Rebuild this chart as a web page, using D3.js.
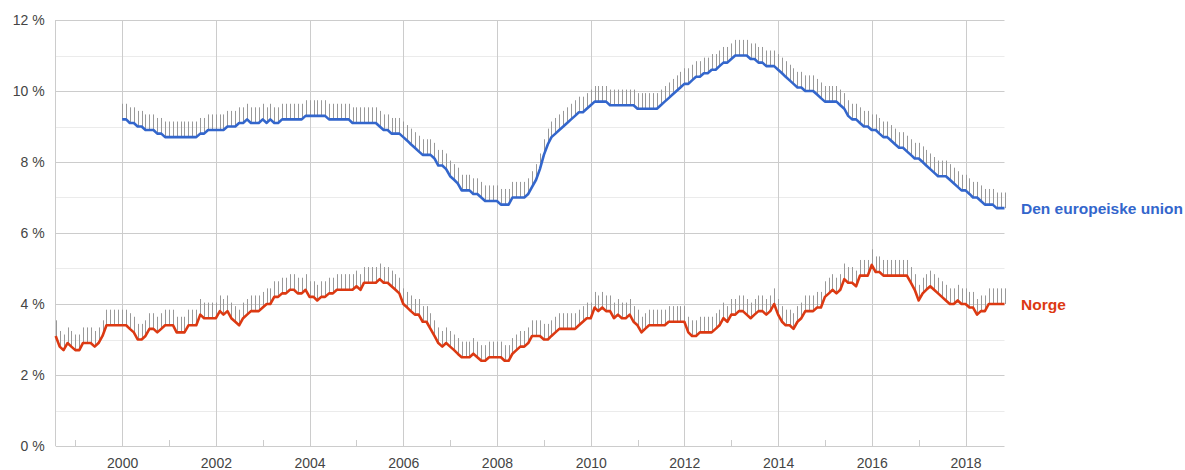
<!DOCTYPE html>
<html>
<head>
<meta charset="utf-8">
<script src="https://cdn.jsdelivr.net/npm/d3@7"></script>
<style>
  body { margin: 0; background: #fff; }
  #chart-container { width: 1185px; height: 470px; }
  text { font-family: "Liberation Sans", Arial, sans-serif; }
</style>
</head>
<body>
<div id="chart-container"></div>
<script>
// monthly values, first month of each series
const euStart = "2000-01";
const noStart = "1998-08";

// Den europeiske union, 2000-01 .. 2018-11
const euValues = [
  9.2, 9.2, 9.1, 9.1, 9.0, 9.0, 8.9, 8.9, 8.9, 8.8,
  8.8, 8.7, 8.7, 8.7, 8.7, 8.7, 8.7, 8.7, 8.7, 8.7,
  8.8, 8.8, 8.9, 8.9, 8.9, 8.9, 8.9, 9.0, 9.0, 9.0,
  9.1, 9.1, 9.2, 9.1, 9.1, 9.1, 9.2, 9.1, 9.2, 9.1,
  9.1, 9.2, 9.2, 9.2, 9.2, 9.2, 9.2, 9.3, 9.3, 9.3,
  9.3, 9.3, 9.3, 9.2, 9.2, 9.2, 9.2, 9.2, 9.2, 9.1,
  9.1, 9.1, 9.1, 9.1, 9.1, 9.1, 9.0, 8.9, 8.9, 8.8,
  8.8, 8.8, 8.7, 8.6, 8.5, 8.4, 8.3, 8.2, 8.2, 8.2,
  8.1, 7.9, 7.9, 7.8, 7.6, 7.5, 7.4, 7.2, 7.2, 7.2,
  7.1, 7.1, 7.0, 6.9, 6.9, 6.9, 6.9, 6.8, 6.8, 6.8,
  7.0, 7.0, 7.0, 7.0, 7.1, 7.3, 7.5, 7.8, 8.2, 8.5,
  8.7, 8.8, 8.9, 9.0, 9.1, 9.2, 9.3, 9.4, 9.4, 9.5,
  9.6, 9.7, 9.7, 9.7, 9.7, 9.6, 9.6, 9.6, 9.6, 9.6,
  9.6, 9.6, 9.5, 9.5, 9.5, 9.5, 9.5, 9.5, 9.6, 9.7,
  9.8, 9.9, 10.0, 10.1, 10.2, 10.2, 10.3, 10.4, 10.4, 10.5,
  10.5, 10.6, 10.6, 10.7, 10.8, 10.8, 10.9, 11.0, 11.0, 11.0,
  11.0, 10.9, 10.9, 10.8, 10.8, 10.7, 10.7, 10.7, 10.6, 10.5,
  10.4, 10.3, 10.2, 10.1, 10.1, 10.0, 10.0, 10.0, 9.9, 9.8,
  9.7, 9.7, 9.7, 9.7, 9.6, 9.5, 9.3, 9.2, 9.2, 9.1,
  9.0, 9.0, 8.9, 8.9, 8.8, 8.7, 8.7, 8.6, 8.5, 8.4,
  8.4, 8.3, 8.2, 8.1, 8.1, 8.0, 7.9, 7.8, 7.7, 7.6,
  7.6, 7.6, 7.5, 7.4, 7.3, 7.2, 7.2, 7.1, 7.0, 7.0,
  6.9, 6.8, 6.8, 6.8, 6.7, 6.7, 6.7
];

// Norge, 1998-08 .. 2018-11
const noValues = [
  3.1, 2.8, 2.7, 2.9, 2.8, 2.7, 2.7, 2.9, 2.9, 2.9,
  2.8, 2.9, 3.1, 3.4, 3.4, 3.4, 3.4, 3.4, 3.4, 3.3,
  3.2, 3.0, 3.0, 3.1, 3.3, 3.3, 3.2, 3.3, 3.4, 3.4,
  3.4, 3.2, 3.2, 3.2, 3.4, 3.4, 3.4, 3.7, 3.6, 3.6,
  3.6, 3.6, 3.8, 3.7, 3.8, 3.6, 3.5, 3.4, 3.6, 3.7,
  3.8, 3.8, 3.8, 3.9, 4.0, 4.0, 4.2, 4.2, 4.3, 4.3,
  4.4, 4.4, 4.3, 4.3, 4.4, 4.2, 4.2, 4.1, 4.2, 4.2,
  4.3, 4.3, 4.4, 4.4, 4.4, 4.4, 4.4, 4.5, 4.4, 4.6,
  4.6, 4.6, 4.6, 4.7, 4.6, 4.6, 4.5, 4.4, 4.3, 4.0,
  3.9, 3.8, 3.7, 3.7, 3.5, 3.5, 3.3, 3.1, 2.9, 2.8,
  2.9, 2.8, 2.7, 2.6, 2.5, 2.5, 2.5, 2.6, 2.5, 2.4,
  2.4, 2.5, 2.5, 2.5, 2.5, 2.4, 2.4, 2.6, 2.7, 2.8,
  2.8, 2.9, 3.1, 3.1, 3.1, 3.0, 3.0, 3.1, 3.2, 3.3,
  3.3, 3.3, 3.3, 3.3, 3.4, 3.5, 3.6, 3.6, 3.9, 3.8,
  3.9, 3.8, 3.8, 3.6, 3.7, 3.6, 3.6, 3.7, 3.5, 3.4,
  3.2, 3.3, 3.4, 3.4, 3.4, 3.4, 3.4, 3.5, 3.5, 3.5,
  3.5, 3.5, 3.2, 3.1, 3.1, 3.2, 3.2, 3.2, 3.2, 3.3,
  3.4, 3.6, 3.5, 3.7, 3.7, 3.8, 3.8, 3.7, 3.6, 3.7,
  3.8, 3.8, 3.7, 3.8, 4.0, 3.7, 3.5, 3.4, 3.4, 3.3,
  3.5, 3.6, 3.8, 3.8, 3.8, 3.9, 3.9, 4.2, 4.3, 4.4,
  4.3, 4.4, 4.7, 4.6, 4.6, 4.5, 4.8, 4.8, 4.8, 5.1,
  4.9, 4.9, 4.8, 4.8, 4.8, 4.8, 4.8, 4.8, 4.8, 4.6,
  4.4, 4.1, 4.3, 4.4, 4.5, 4.4, 4.3, 4.2, 4.1, 4.0,
  4.0, 4.1, 4.0, 4.0, 3.9, 3.9, 3.7, 3.8, 3.8, 4.0,
  4.0, 4.0, 4.0, 4.0
];

// gray interval sticks reach about this far above each value
const euInterval = 0.44;
const noInterval = 0.44;

const yTicks = [0, 2, 4, 6, 8, 10, 12];
const yMinor = [1, 3, 5, 7, 9, 11];
const xTickYears = [2000, 2002, 2004, 2006, 2008, 2010, 2012, 2014, 2016, 2018];
const xMinorYears = [1999, 2001, 2003, 2005, 2007, 2009, 2011, 2013, 2015, 2017];

const seriesNames = ["Den europeiske union", "Norge"];
const colors = ["#3366cc", "#dc3912"];

// layout
const plotLeft = 55.7, plotRight = 1004.5, plotTop = 20, plotBottom = 446;

const parseMonth = d3.timeParse("%Y-%m");
const toRows = (start, values, interval) => values.map((v, i) => ({
    date: d3.timeMonth.offset(parseMonth(start), i),
    value: v,
    upper: v + interval
}));

const series = [
    { name: seriesNames[0], color: colors[0], rows: toRows(euStart, euValues, euInterval) },
    { name: seriesNames[1], color: colors[1], rows: toRows(noStart, noValues, noInterval) }
];

const x = d3.scaleTime()
    .domain([parseMonth(noStart), series[0].rows[series[0].rows.length - 1].date])
    .range([plotLeft, plotRight]);
const y = d3.scaleLinear().domain([0, 12]).range([plotBottom, plotTop]);

const svg = d3.select("#chart-container")
    .append("svg")
    .attr("width", 1185)
    .attr("height", 470);

// horizontal gridlines, minor first
svg.append("g").selectAll("line")
    .data(yMinor)
    .join("line")
    .attr("x1", plotLeft).attr("x2", plotRight)
    .attr("y1", d => Math.round(y(d)) + 0.5).attr("y2", d => Math.round(y(d)) + 0.5)
    .attr("stroke", "#ebebeb");

svg.append("g").selectAll("line")
    .data(yTicks)
    .join("line")
    .attr("x1", plotLeft).attr("x2", plotRight)
    .attr("y1", d => Math.round(y(d)) + 0.5).attr("y2", d => Math.round(y(d)) + 0.5)
    .attr("stroke", "#cccccc");

// vertical gridlines at even years + left edge
const yearDate = yr => new Date(yr, 0, 1);
svg.append("g").selectAll("line")
    .data(xTickYears)
    .join("line")
    .attr("x1", d => Math.round(x(yearDate(d))) + 0.5)
    .attr("x2", d => Math.round(x(yearDate(d))) + 0.5)
    .attr("y1", plotTop).attr("y2", plotBottom)
    .attr("stroke", "#cccccc");

svg.append("line")
    .attr("x1", Math.round(plotLeft) - 0.5).attr("x2", Math.round(plotLeft) - 0.5)
    .attr("y1", plotTop).attr("y2", plotBottom)
    .attr("stroke", "#cccccc");

// small ticks at odd years
svg.append("g").selectAll("line")
    .data(xMinorYears)
    .join("line")
    .attr("x1", d => Math.round(x(yearDate(d))) + 0.5)
    .attr("x2", d => Math.round(x(yearDate(d))) + 0.5)
    .attr("y1", plotBottom - 6).attr("y2", plotBottom)
    .attr("stroke", "#cccccc");

// y axis labels
svg.append("g")
    .attr("transform", `translate(${plotLeft},0)`)
    .call(d3.axisLeft(y)
        .tickValues(yTicks)
        .tickFormat(d => `${d} %`)
        .tickSize(0)
        .tickPadding(11))
    .call(g => g.select(".domain").remove())
    .selectAll(".tick text")
    .style("font-size", "14px")
    .style("font-family", "'Liberation Sans', Arial, sans-serif")
    .attr("fill", "#444");

// x axis labels
svg.append("g")
    .attr("transform", `translate(0,${plotBottom})`)
    .call(d3.axisBottom(x)
        .tickValues(xTickYears.map(yearDate))
        .tickFormat(d3.timeFormat("%Y"))
        .tickSize(0)
        .tickPadding(12))
    .call(g => g.select(".domain").remove())
    .selectAll(".tick text")
    .style("font-size", "14px")
    .style("font-family", "'Liberation Sans', Arial, sans-serif")
    .attr("fill", "#444");

// interval sticks
series.forEach(s => {
    svg.append("g").selectAll("line")
        .data(s.rows)
        .join("line")
        .attr("x1", d => Math.round(x(d.date)) + 0.5)
        .attr("x2", d => Math.round(x(d.date)) + 0.5)
        .attr("y1", d => y(d.value))
        .attr("y2", d => y(d.upper))
        .attr("stroke", "#999")
        .attr("stroke-width", 1);
});

// lines
const line = d3.line()
    .x(d => x(d.date))
    .y(d => y(d.value));

series.forEach(s => {
    svg.append("path")
        .datum(s.rows)
        .attr("fill", "none")
        .attr("stroke", s.color)
        .attr("stroke-width", 2.6)
        .attr("stroke-linejoin", "round")
        .attr("d", line);
});

// end labels
series.forEach(s => {
    const last = s.rows[s.rows.length - 1];
    svg.append("text")
        .attr("x", 1021)
        .attr("y", y(last.value))
        .attr("dy", "0.36em")
        .style("font-size", "15.5px")
        .style("font-weight", "bold")
        .attr("fill", s.color)
        .text(s.name);
});
</script>
</body>
</html>
